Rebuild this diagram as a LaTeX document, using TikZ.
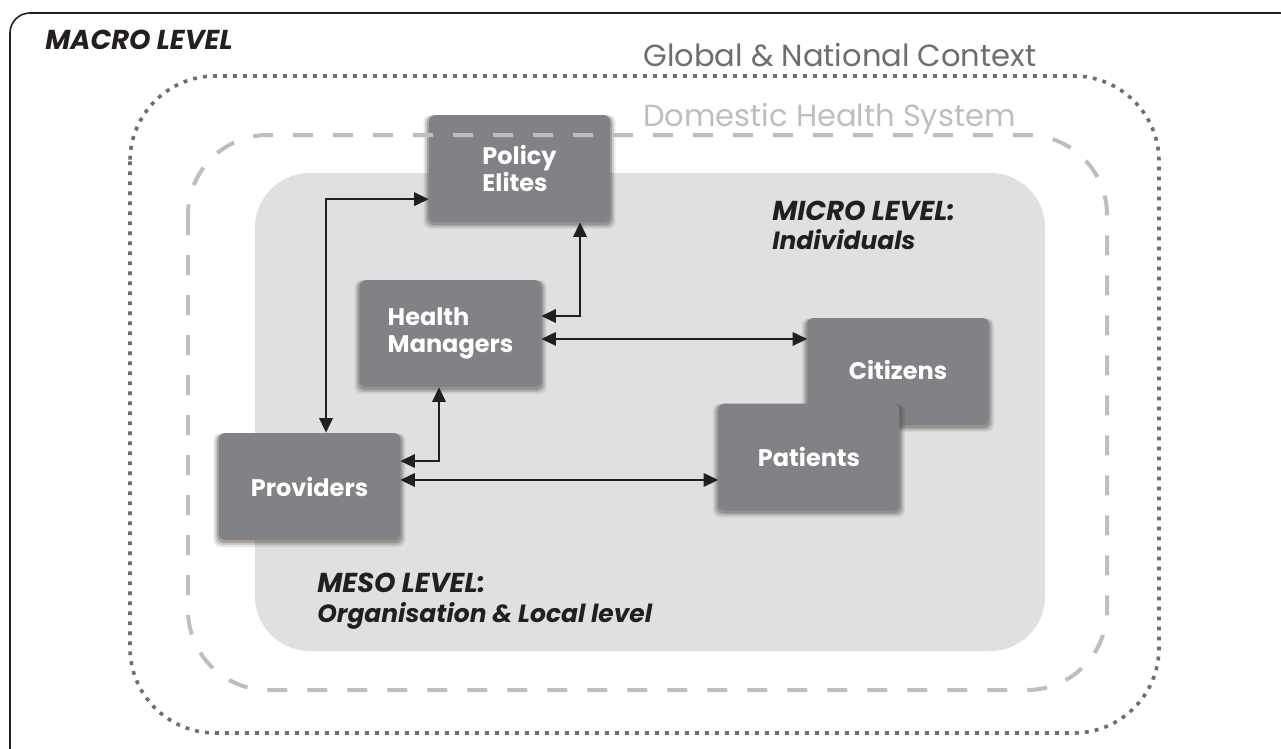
\documentclass[tikz,border=0pt]{standalone}
\usepackage{fontspec}
\setmainfont{Poppins}
\usetikzlibrary{arrows.meta,shadows}
\definecolor{framec}{HTML}{231F20}
\definecolor{dotc}{HTML}{6D6E71}
\definecolor{dashc}{HTML}{BCBEC0}
\definecolor{regionc}{HTML}{DFE0E2}
\definecolor{boxc}{HTML}{808285}
\definecolor{shadowc}{HTML}{4A3F35}
\begin{document}
\begin{tikzpicture}[x=0.75pt,y=-0.75pt,
  boxstyle/.style={rounded corners=5pt, fill=boxc, minimum width=135.75pt,
    minimum height=80.25pt, text=white, align=left, inner sep=0pt,
    font=\bfseries\fontsize{18}{20.5}\selectfont,
    general shadow={fill=shadowc, opacity=0.12, shadow yshift=-2.5pt, shadow scale=1.06},
    general shadow={fill=shadowc, opacity=0.18, shadow yshift=-2pt, shadow scale=1.04},
    general shadow={fill=shadowc, opacity=0.28, shadow yshift=-1.5pt, shadow scale=1.02}},
  arr/.style={{Triangle[length=11pt,width=10pt]}-{Triangle[length=11pt,width=10pt]},
    line width=1.8pt, draw=framec},
  capslevel/.style={font=\bfseries\itshape\fontsize{20.5}{22}\selectfont, text=framec,
    inner sep=0pt, anchor=base west},
  level/.style={font=\bfseries\itshape\fontsize{18.7}{22}\selectfont, text=framec,
    inner sep=0pt, anchor=base west},
  ctx/.style={font=\fontsize{22.9}{26}\selectfont, inner sep=0pt, anchor=base west}]
\useasboundingbox (0,0) rectangle (1281,749);
\fill[white] (0,0) rectangle (1281,749);
% outer macro frame (clipped by the page)
\begin{scope}
  \clip (0,0) rectangle (1281,749);
  \draw[framec, line width=1.2pt, rounded corners=15pt] (10,13) rectangle (1300,770);
\end{scope}
% global & national context (dotted)
\draw[dotc, line width=2.7pt, dash pattern=on 2.9pt off 4.6pt, rounded corners=64pt]
  (130,76) rectangle (1159,733);
% micro/meso region
\fill[regionc, rounded corners=41pt] (255,173) rectangle (1045,651);
% boxes
\node[boxstyle] (policy) at (519.5,168.5) {Policy\\Elites};
\node[boxstyle] (hm) at (450.5,333.5) {Health\\Managers};
\node[boxstyle] (prov) at (309.5,486.5) {Providers};
\node[boxstyle] (cit) at (898,371.5) {\raisebox{3pt}{Citizens}};
\node[boxstyle] (pat) at (809,457) {Patients};
% connectors
\draw[arr] ([yshift=-23pt]policy.west) -| ([xshift=12.4pt]prov.north);
\draw[arr] ([xshift=45.4pt]policy.south) |- ([yshift=13.1pt]hm.east);
\draw[arr] ([yshift=-4.1pt]hm.east) -- ([yshift=-4.1pt]hm.east -| cit.west);
\draw[arr] ([xshift=-8.6pt]hm.south) |- ([yshift=19.1pt]prov.east);
\draw[arr] ([yshift=4.9pt]prov.east) -- ([yshift=4.9pt]prov.east -| pat.west);
% domestic health system (dashed)
\draw[dashc, line width=3pt, dash pattern=on 15pt off 15pt, rounded corners=60pt]
  (188,135) rectangle (1107,690);
% labels
\node[capslevel] (macro) at (45,50) {MACRO LEVEL};
\node[ctx, text=dotc] (global) at (643,67) {Global \& National Context};
\node[ctx, text=dashc] (domestic) at (643,127) {Domestic Health System};
\node[capslevel] (micro1) at (772,220) {MICRO LEVEL:};
\node[level] (micro2) at (772,249) {Individuals};
\node[capslevel] (meso1) at (317,592) {MESO LEVEL:};
\node[level] (meso2) at (317,622) {Organisation \& Local level};
\end{tikzpicture}
\end{document}
